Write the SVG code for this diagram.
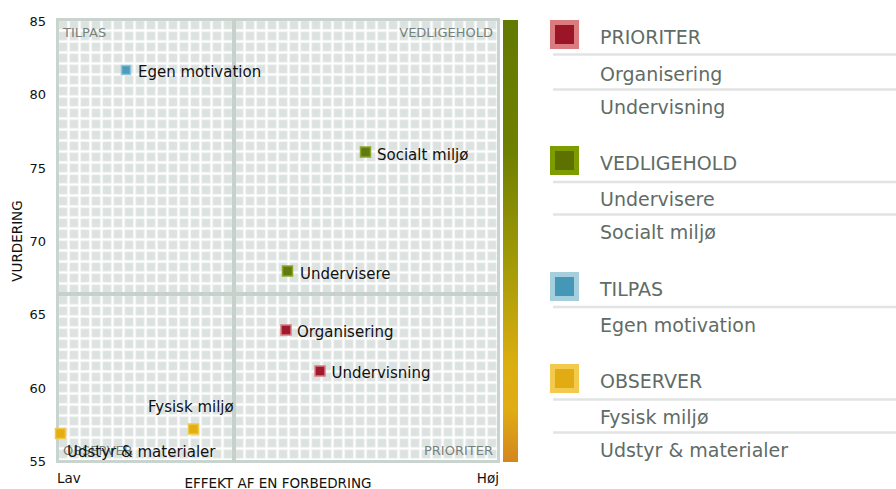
<svg xmlns="http://www.w3.org/2000/svg" width="896" height="489" viewBox="0 0 896 489">
<defs>
<pattern id="grid" x="58" y="20" width="11" height="11" patternUnits="userSpaceOnUse">
<rect width="11" height="11" fill="#ffffff"/>
<rect x="0.5" y="0.5" width="9" height="9" fill="#e5e9e7"/>
<rect x="1.5" y="1.5" width="7" height="7" fill="#dce2df"/>
</pattern>
<linearGradient id="bar" x1="0" y1="0" x2="0" y2="1">
<stop offset="0" stop-color="#637a00"/>
<stop offset="0.3" stop-color="#6f8000"/>
<stop offset="0.55" stop-color="#a29a08"/>
<stop offset="0.78" stop-color="#dcae10"/>
<stop offset="0.88" stop-color="#e0ac14"/>
<stop offset="1" stop-color="#d4861e"/>
</linearGradient>
<style>
text{font-family:"DejaVu Sans","Verdana",sans-serif}
.tick{font-size:13px;fill:#111;text-anchor:end}
.axis{font-size:13.5px;fill:#111}
.quad{font-size:13px;fill:#76827c}
.lbl{font-size:15px;fill:#111}
.leg{font-size:19px;fill:#5f6c66}
.sep{stroke:#e2e4e3;stroke-width:2.5}
.pri{fill:#9e1a2c;stroke:#d87c84;stroke-width:1.5}
.ved{fill:#5f7a0e;stroke:#8ea52c;stroke-width:1.5}
.til{fill:#4a9cba;stroke:#8cc4d8;stroke-width:1.5}
.obs{fill:#e2ae12;stroke:#f2c84a;stroke-width:1.5}
</style>
</defs>
<rect width="896" height="489" fill="#ffffff"/>

<g id="plot">
<rect x="58" y="20" width="440" height="441" fill="url(#grid)"/>
<rect x="57.5" y="19.5" width="441" height="442" fill="none" stroke="#cad4ce" stroke-width="3"/>
<line x1="234" y1="19" x2="234" y2="462" stroke="#c6d1cb" stroke-width="4"/>
<line x1="57" y1="294" x2="499" y2="294" stroke="#c6d1cb" stroke-width="4"/>
<text class="quad" x="63" y="37">TILPAS</text>
<text class="quad" x="493" y="37" text-anchor="end">VEDLIGEHOLD</text>
<text class="quad" x="63" y="455">OBSERVER</text>
<text class="quad" x="493" y="455" text-anchor="end">PRIORITER</text>
</g>

<g id="colorbar">
<rect x="503" y="20" width="15" height="442" fill="url(#bar)"/>
</g>

<g id="axes">
<text class="tick" x="46" y="26">85</text>
<text class="tick" x="46" y="99">80</text>
<text class="tick" x="46" y="173">75</text>
<text class="tick" x="46" y="246">70</text>
<text class="tick" x="46" y="319">65</text>
<text class="tick" x="46" y="393">60</text>
<text class="tick" x="46" y="466">55</text>
<text class="axis" transform="translate(22,241) rotate(-90)" text-anchor="middle">VURDERING</text>
<text class="axis" x="278" y="487.5" text-anchor="middle">EFFEKT AF EN FORBEDRING</text>
<text class="axis" x="57" y="483">Lav</text>
<text class="axis" x="499" y="483" text-anchor="end">Høj</text>
</g>

<g id="connectors"></g>

<g id="pt-egen-motivation">
<rect class="til" x="121.5" y="65.5" width="9" height="9"/>
<text class="lbl" x="138" y="77">Egen motivation</text>
</g>
<g id="pt-socialt-miljo">
<rect class="ved" x="360.5" y="147" width="10" height="10"/>
<text class="lbl" x="377" y="159.5">Socialt miljø</text>
</g>
<g id="pt-undervisere">
<rect class="ved" x="282.5" y="266" width="10" height="10"/>
<text class="lbl" x="300" y="279">Undervisere</text>
</g>
<g id="pt-organisering">
<rect class="pri" x="281" y="325" width="10" height="10"/>
<text class="lbl" x="297" y="336.5">Organisering</text>
</g>
<g id="pt-undervisning">
<rect class="pri" x="315" y="366" width="10" height="10"/>
<text class="lbl" x="331.5" y="378">Undervisning</text>
</g>
<g id="pt-fysisk-miljo">
<rect class="obs" x="188.5" y="424" width="10" height="10"/>
<text class="lbl" x="148" y="411.5">Fysisk miljø</text>
</g>
<g id="pt-udstyr">
<rect class="obs" x="55.5" y="428.5" width="10" height="10"/>
<text class="lbl" x="67" y="457">Udstyr &amp; materialer</text>
</g>

<g id="legend-prioriter">
<rect x="550" y="20" width="29" height="29" fill="#d97b7f"/>
<rect x="555" y="25" width="19" height="19" fill="#9c1428"/>
<text class="leg" x="600" y="44">PRIORITER</text>
<line class="sep" x1="553" y1="54.5" x2="896" y2="54.5"/>
<text class="leg" x="600" y="81">Organisering</text>
<line class="sep" x1="553" y1="89.5" x2="896" y2="89.5"/>
<text class="leg" x="600" y="114">Undervisning</text>
</g>
<g id="legend-vedligehold">
<rect x="550" y="146" width="29" height="29" fill="#7c9c00"/>
<rect x="555" y="151" width="19" height="19" fill="#5d7000"/>
<text class="leg" x="600" y="170">VEDLIGEHOLD</text>
<line class="sep" x1="553" y1="182" x2="896" y2="182"/>
<text class="leg" x="600" y="205.5">Undervisere</text>
<line class="sep" x1="553" y1="214.5" x2="896" y2="214.5"/>
<text class="leg" x="600" y="239">Socialt miljø</text>
</g>
<g id="legend-tilpas">
<rect x="550" y="272" width="29" height="29" fill="#a6cfdd"/>
<rect x="555" y="277" width="19" height="19" fill="#4497b6"/>
<text class="leg" x="600" y="296">TILPAS</text>
<line class="sep" x1="553" y1="307" x2="896" y2="307"/>
<text class="leg" x="600" y="331.5">Egen motivation</text>
</g>
<g id="legend-observer">
<rect x="550" y="364" width="29" height="29" fill="#f3c94e"/>
<rect x="555" y="369" width="19" height="19" fill="#e0ac12"/>
<text class="leg" x="600" y="388">OBSERVER</text>
<line class="sep" x1="553" y1="399.5" x2="896" y2="399.5"/>
<text class="leg" x="600" y="424">Fysisk miljø</text>
<line class="sep" x1="553" y1="432.5" x2="896" y2="432.5"/>
<text class="leg" x="600" y="457">Udstyr &amp; materialer</text>
</g>
</svg>
